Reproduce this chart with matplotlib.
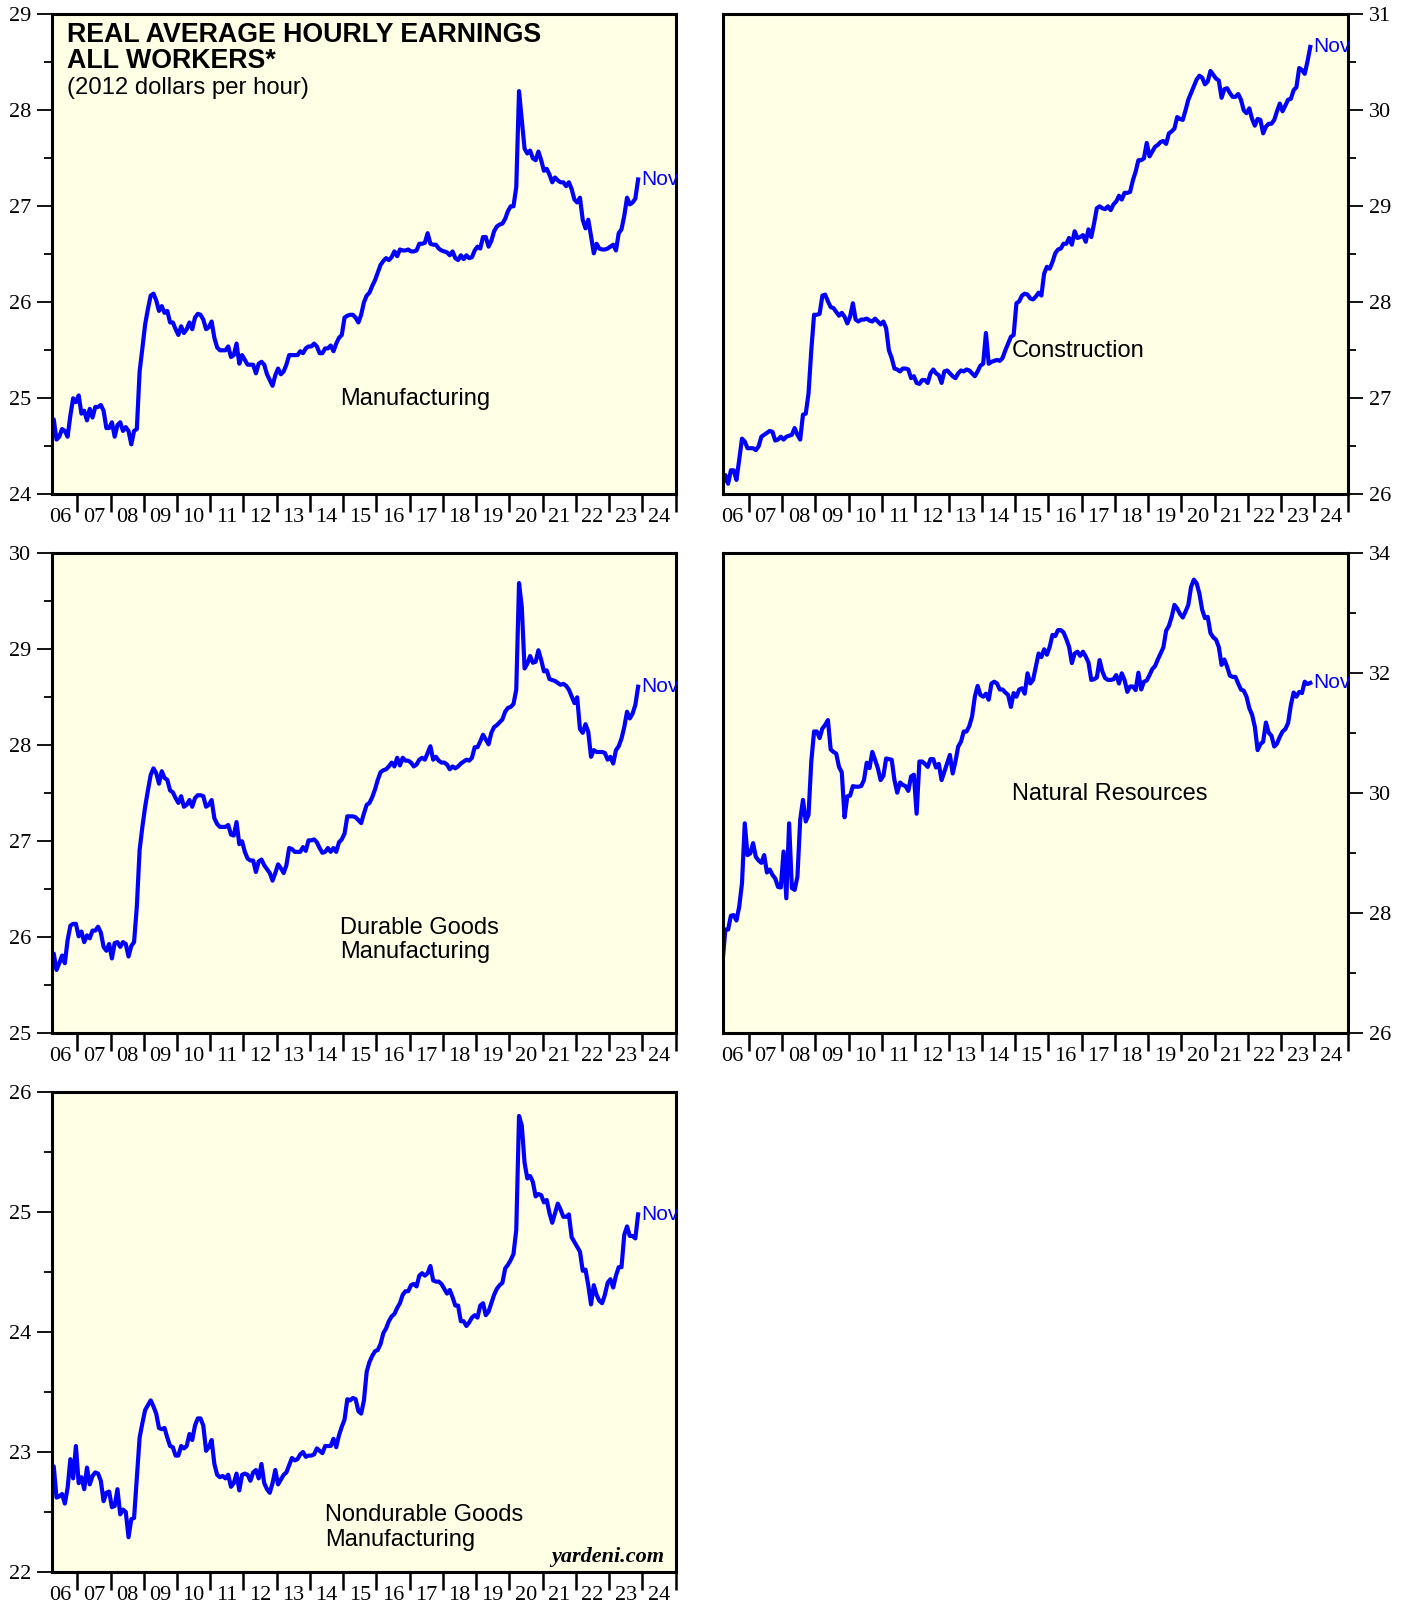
import numpy as np
import matplotlib.pyplot as plt
from matplotlib.ticker import FixedLocator, MultipleLocator, NullFormatter, FixedFormatter

plt.rcParams['font.family'] = ['Liberation Sans', 'DejaVu Sans']

# real average hourly earnings, 2012 dollars, monthly Mar 2006 - Nov 2023
manufacturing = [
    24.75, 24.78, 24.57, 24.60, 24.68, 24.66, 24.60, 24.82, 25.00, 24.96,
    25.03, 24.84, 24.87, 24.77, 24.89, 24.80, 24.91, 24.91, 24.93, 24.87, 24.69, 24.69,
    24.75, 24.60, 24.72, 24.75, 24.66, 24.70, 24.66, 24.52, 24.66, 24.68, 25.28, 25.52,
    25.77, 25.93, 26.07, 26.09, 26.02, 25.91, 25.96, 25.89, 25.91, 25.79, 25.79, 25.72,
    25.66, 25.75, 25.68, 25.72, 25.79, 25.72, 25.84, 25.88, 25.87, 25.82, 25.72, 25.74,
    25.80, 25.63, 25.53, 25.50, 25.50, 25.50, 25.54, 25.43, 25.45, 25.57, 25.36, 25.45,
    25.40, 25.35, 25.35, 25.35, 25.26, 25.36, 25.38, 25.35, 25.25, 25.19, 25.13, 25.24,
    25.31, 25.25, 25.28, 25.35, 25.45, 25.45, 25.45, 25.45, 25.49, 25.47, 25.52, 25.54,
    25.54, 25.57, 25.54, 25.47, 25.47, 25.52, 25.52, 25.55, 25.49, 25.57, 25.63, 25.66,
    25.84, 25.86, 25.87, 25.87, 25.84, 25.79, 25.87, 26.00, 26.07, 26.10, 26.17, 26.23,
    26.31, 26.39, 26.43, 26.46, 26.44, 26.47, 26.53, 26.48, 26.55, 26.54, 26.54, 26.55,
    26.53, 26.53, 26.54, 26.61, 26.61, 26.62, 26.72, 26.61, 26.60, 26.60, 26.56, 26.54,
    26.53, 26.52, 26.49, 26.53, 26.46, 26.44, 26.49, 26.45, 26.49, 26.46, 26.47, 26.54,
    26.58, 26.56, 26.68, 26.68, 26.58, 26.64, 26.74, 26.79, 26.81, 26.82, 26.87, 26.95,
    27.00, 27.00, 27.20, 28.20, 27.90, 27.60, 27.55, 27.58, 27.50, 27.48, 27.57, 27.48,
    27.37, 27.39, 27.33, 27.25, 27.30, 27.27, 27.25, 27.25, 27.21, 27.25, 27.18, 27.07,
    27.04, 27.09, 26.86, 26.77, 26.86, 26.69, 26.51, 26.61, 26.56, 26.55, 26.55, 26.56,
    26.58, 26.60, 26.54, 26.72, 26.76, 26.90, 27.09, 27.02, 27.04, 27.08, 27.28,
]

construction = [
    26.10, 26.20, 26.11, 26.25, 26.25, 26.15, 26.36, 26.58, 26.55, 26.48,
    26.48, 26.48, 26.46, 26.50, 26.60, 26.62, 26.64, 26.66, 26.65, 26.56, 26.57, 26.60,
    26.57, 26.60, 26.61, 26.62, 26.69, 26.62, 26.57, 26.83, 26.84, 27.05, 27.50, 27.87,
    27.87, 27.88, 28.07, 28.08, 28.01, 27.95, 27.94, 27.90, 27.86, 27.89, 27.85, 27.78,
    27.85, 27.99, 27.82, 27.80, 27.82, 27.82, 27.83, 27.81, 27.80, 27.83, 27.80, 27.77,
    27.80, 27.73, 27.50, 27.42, 27.31, 27.30, 27.28, 27.31, 27.31, 27.30, 27.21, 27.23,
    27.16, 27.15, 27.19, 27.19, 27.16, 27.26, 27.30, 27.26, 27.24, 27.16, 27.28, 27.29,
    27.26, 27.23, 27.21, 27.26, 27.29, 27.28, 27.30, 27.29, 27.26, 27.23, 27.28, 27.34,
    27.36, 27.68, 27.36, 27.38, 27.39, 27.40, 27.39, 27.42, 27.50, 27.57, 27.64, 27.66,
    27.99, 28.01, 28.07, 28.09, 28.08, 28.04, 28.03, 28.06, 28.10, 28.07, 28.30, 28.37,
    28.35, 28.42, 28.51, 28.55, 28.56, 28.61, 28.61, 28.67, 28.60, 28.74, 28.67, 28.68,
    28.70, 28.63, 28.76, 28.68, 28.82, 28.98, 29.00, 28.98, 28.97, 29.00, 28.96, 29.02,
    29.05, 29.11, 29.07, 29.14, 29.14, 29.15, 29.27, 29.36, 29.48, 29.48, 29.50, 29.66,
    29.52, 29.57, 29.62, 29.64, 29.67, 29.68, 29.65, 29.76, 29.78, 29.81, 29.93, 29.91,
    29.90, 30.00, 30.11, 30.18, 30.25, 30.32, 30.36, 30.34, 30.27, 30.30, 30.41, 30.37,
    30.33, 30.31, 30.13, 30.22, 30.23, 30.18, 30.14, 30.14, 30.17, 30.11, 30.00, 29.97,
    30.02, 29.91, 29.84, 29.91, 29.90, 29.76, 29.83, 29.86, 29.86, 29.90, 29.99, 30.07,
    29.99, 30.05, 30.11, 30.12, 30.21, 30.24, 30.44, 30.42, 30.38, 30.51, 30.66,
]

durable = [
    25.83, 25.83, 25.66, 25.73, 25.81, 25.73, 25.97, 26.12, 26.14, 26.14,
    26.01, 26.06, 25.95, 26.02, 25.99, 26.07, 26.07, 26.11, 26.05, 25.90, 25.86, 25.93,
    25.78, 25.94, 25.95, 25.90, 25.95, 25.93, 25.80, 25.91, 25.95, 26.32, 26.91, 27.15,
    27.36, 27.53, 27.69, 27.76, 27.71, 27.60, 27.73, 27.66, 27.64, 27.53, 27.51, 27.45,
    27.40, 27.47, 27.36, 27.38, 27.43, 27.36, 27.45, 27.48, 27.48, 27.47, 27.36, 27.38,
    27.43, 27.24, 27.18, 27.15, 27.15, 27.15, 27.17, 27.07, 27.06, 27.20, 26.97, 27.00,
    26.89, 26.82, 26.80, 26.80, 26.68, 26.79, 26.81, 26.75, 26.71, 26.67, 26.59, 26.67,
    26.76, 26.72, 26.67, 26.75, 26.93, 26.92, 26.89, 26.89, 26.89, 26.94, 26.90, 27.01,
    27.01, 27.02, 26.99, 26.93, 26.88, 26.89, 26.93, 26.89, 26.93, 26.89, 26.99, 27.02,
    27.08, 27.26, 27.26, 27.26, 27.25, 27.22, 27.19, 27.29, 27.38, 27.40, 27.46, 27.54,
    27.64, 27.72, 27.74, 27.75, 27.78, 27.82, 27.78, 27.87, 27.79, 27.87, 27.84, 27.84,
    27.82, 27.78, 27.80, 27.85, 27.87, 27.85, 27.92, 27.99, 27.85, 27.88, 27.84, 27.82,
    27.82, 27.80, 27.75, 27.78, 27.76, 27.78, 27.81, 27.83, 27.85, 27.84, 27.87, 27.98,
    27.98, 28.04, 28.11, 28.06, 28.01, 28.13, 28.19, 28.21, 28.24, 28.27, 28.35, 28.39,
    28.40, 28.43, 28.58, 29.69, 29.44, 28.80, 28.85, 28.93, 28.86, 28.87, 28.99, 28.89,
    28.77, 28.78, 28.69, 28.68, 28.67, 28.65, 28.63, 28.64, 28.62, 28.58, 28.51, 28.44,
    28.50, 28.17, 28.13, 28.22, 28.14, 27.88, 27.95, 27.93, 27.93, 27.93, 27.92, 27.85,
    27.88, 27.81, 27.95, 27.99, 28.07, 28.19, 28.35, 28.28, 28.33, 28.42, 28.61,
]

natural_resources = [
    27.19, 27.73, 27.73, 27.96, 27.97, 27.88, 28.11, 28.50, 29.50, 28.97,
    29.00, 29.17, 28.94, 28.88, 28.84, 28.97, 28.68, 28.73, 28.64, 28.58, 28.44, 28.43,
    29.03, 28.25, 29.50, 28.42, 28.39, 28.61, 29.56, 29.89, 29.53, 29.64, 30.53, 31.03,
    31.03, 30.92, 31.08, 31.14, 31.22, 30.73, 30.69, 30.66, 30.44, 30.35, 29.60, 29.95,
    29.96, 30.12, 30.11, 30.11, 30.12, 30.22, 30.51, 30.42, 30.69, 30.56, 30.42, 30.22,
    30.29, 30.58, 30.57, 30.56, 30.22, 30.01, 30.18, 30.14, 30.12, 30.04, 30.28, 30.31,
    29.66, 30.53, 30.53, 30.49, 30.44, 30.57, 30.57, 30.43, 30.49, 30.22, 30.36, 30.50,
    30.64, 30.33, 30.53, 30.78, 30.86, 31.03, 31.03, 31.12, 31.28, 31.61, 31.79, 31.64,
    31.61, 31.66, 31.56, 31.83, 31.86, 31.83, 31.73, 31.73, 31.68, 31.64, 31.44, 31.67,
    31.61, 31.73, 31.75, 31.66, 32.00, 31.83, 31.89, 32.11, 32.33, 32.27, 32.40, 32.31,
    32.44, 32.64, 32.62, 32.72, 32.72, 32.68, 32.57, 32.44, 32.17, 32.33, 32.36, 32.29,
    32.36, 32.28, 32.18, 31.89, 31.90, 31.93, 32.22, 32.03, 31.92, 31.89, 31.89, 31.90,
    31.97, 31.83, 32.00, 31.89, 31.69, 31.78, 31.78, 31.72, 32.01, 31.73, 31.86, 31.88,
    31.97, 32.07, 32.12, 32.23, 32.33, 32.43, 32.71, 32.79, 32.94, 33.14, 33.08, 32.99,
    32.93, 33.03, 33.14, 33.44, 33.56, 33.50, 33.33, 33.06, 32.92, 32.94, 32.67, 32.60,
    32.56, 32.44, 32.14, 32.23, 32.11, 31.96, 31.94, 31.94, 31.83, 31.73, 31.71, 31.61,
    31.42, 31.31, 31.11, 30.72, 30.82, 30.86, 31.18, 31.01, 30.96, 30.78, 30.83, 30.94,
    31.03, 31.07, 31.17, 31.47, 31.68, 31.61, 31.69, 31.67, 31.86, 31.82, 31.84,
]

nondurable = [
    22.73, 22.88, 22.62, 22.63, 22.65, 22.57, 22.70, 22.94, 22.78, 23.05,
    22.74, 22.79, 22.69, 22.87, 22.73, 22.80, 22.83, 22.82, 22.76, 22.59, 22.66, 22.67,
    22.54, 22.55, 22.69, 22.48, 22.52, 22.50, 22.29, 22.44, 22.45, 22.78, 23.12, 23.24,
    23.35, 23.39, 23.43, 23.38, 23.32, 23.20, 23.19, 23.20, 23.12, 23.05, 23.04, 22.97,
    22.97, 23.05, 23.03, 23.05, 23.15, 23.10, 23.22, 23.28, 23.28, 23.22, 23.01, 23.04,
    23.10, 22.90, 22.81, 22.79, 22.80, 22.78, 22.81, 22.71, 22.74, 22.82, 22.68, 22.81,
    22.82, 22.81, 22.76, 22.83, 22.85, 22.78, 22.90, 22.74, 22.69, 22.66, 22.74, 22.85,
    22.73, 22.77, 22.81, 22.83, 22.89, 22.95, 22.93, 22.94, 22.98, 23.00, 22.96, 22.97,
    22.97, 22.98, 23.03, 23.01, 22.99, 23.05, 23.05, 23.05, 23.11, 23.04, 23.14, 23.21,
    23.27, 23.44, 23.43, 23.45, 23.44, 23.34, 23.32, 23.43, 23.67, 23.75, 23.80, 23.84,
    23.85, 23.90, 23.99, 24.03, 24.09, 24.13, 24.15, 24.20, 24.24, 24.31, 24.34, 24.34,
    24.39, 24.40, 24.38, 24.47, 24.49, 24.47, 24.49, 24.55, 24.43, 24.42, 24.42, 24.40,
    24.36, 24.32, 24.35, 24.29, 24.22, 24.22, 24.09, 24.09, 24.05, 24.08, 24.12, 24.14,
    24.12, 24.22, 24.24, 24.14, 24.17, 24.24, 24.31, 24.36, 24.39, 24.41, 24.53, 24.56,
    24.60, 24.65, 24.85, 25.80, 25.72, 25.41, 25.28, 25.30, 25.25, 25.13, 25.15, 25.14,
    25.08, 25.10, 24.99, 24.91, 24.99, 25.07, 25.02, 24.96, 24.96, 24.98, 24.79, 24.75,
    24.71, 24.67, 24.51, 24.52, 24.39, 24.23, 24.39, 24.31, 24.26, 24.24, 24.31, 24.41,
    24.44, 24.37, 24.47, 24.54, 24.54, 24.81, 24.88, 24.80, 24.80, 24.78, 24.98,
]

year_labels = ['%02d' % (y % 100) for y in range(2006, 2025)]

# month midpoints, first value is March 2006
t = 2006 + (np.arange(len(manufacturing)) + 2.5) / 12.0

W, H = 1408.0, 1602.0
def box(left, top, right, bottom):
    return [left / W, 1 - bottom / H, (right - left) / W, (bottom - top) / H]

BG = '#ffffe6'
BLUE = '#0000ff'
SERIF = 'Liberation Serif'

fig = plt.figure(figsize=(14.08, 16.02), dpi=100)

panels = [
    # position, data, y range, major step, minor step, side
    (box(51.7, 14.3, 675.5, 494.3),   manufacturing,     (24, 29), 1, 0.5, 'left'),
    (box(723.3, 14.3, 1347.7, 494.3), construction,      (26, 31), 1, 0.5, 'right'),
    (box(51.7, 553.3, 675.5, 1033.3), durable,           (25, 30), 1, 0.5, 'left'),
    (box(723.3, 553.3, 1347.7, 1033.3), natural_resources, (26, 34), 2, 1, 'right'),
    (box(51.7, 1092.0, 675.5, 1572.0), nondurable,       (22, 26), 1, 0.5, 'left'),
]

for pos, vals, (lo, hi), major, minor, side in panels:
    ax = fig.add_axes(pos)
    ax.set_facecolor(BG)
    ax.plot(t, vals, color=BLUE, lw=3.0, solid_joinstyle='round')
    ax.set_xlim(2006.23, 2025.0)
    ax.set_ylim(lo, hi)
    for s in ax.spines.values():
        s.set_linewidth(2.2)

    # years: ticks on the boundaries, labels in between
    ax.xaxis.set_major_locator(FixedLocator(np.arange(2007, 2026)))
    ax.xaxis.set_major_formatter(NullFormatter())
    ax.xaxis.set_minor_locator(FixedLocator(np.arange(2006, 2025) + 0.5))
    ax.xaxis.set_minor_formatter(FixedFormatter(year_labels))
    ax.tick_params(axis='x', which='major', direction='out', length=13, width=1.8)
    ax.tick_params(axis='x', which='minor', length=0, pad=10, labelsize=16)

    ax.yaxis.set_major_locator(MultipleLocator(major))
    ax.yaxis.set_minor_locator(MultipleLocator(minor))
    ax.tick_params(axis='y', which='major', direction='out', length=11, width=1.3,
                   pad=4, labelsize=16)
    ax.tick_params(axis='y', which='minor', direction='out', length=5.5, width=1.3)
    if side == 'right':
        ax.yaxis.tick_right()
    for lab in ax.get_xticklabels(minor=True) + ax.get_yticklabels():
        lab.set_family(SERIF)

    ax.annotate('Nov', xy=(t[-1], vals[-1]), xytext=(2, 0), textcoords='offset points',
                color=BLUE, fontsize=15, va='center', ha='left', annotation_clip=False)

def label(x, y, s, **kw):
    fig.text(x / W, 1 - y / H, s, va='center', ha='left', **kw)

label(67, 35, 'REAL AVERAGE HOURLY EARNINGS', fontsize=19.3, fontweight='bold')
label(67, 61, 'ALL WORKERS*', fontsize=19.3, fontweight='bold')
label(67, 88, '(2012 dollars per hour)', fontsize=17.2)

label(340, 399, 'Manufacturing', fontsize=17)
label(1012, 351, 'Construction', fontsize=17)
label(340, 928, 'Durable Goods', fontsize=17)
label(340, 952, 'Manufacturing', fontsize=17)
label(1012, 794, 'Natural Resources', fontsize=17)
label(325, 1515, 'Nondurable Goods', fontsize=17)
label(325, 1540, 'Manufacturing', fontsize=17)

fig.text(664 / W, 1 - 1557 / H, 'yardeni.com', ha='right', va='center', fontsize=16,
         family=SERIF, fontweight='bold', style='italic')

fig.savefig('out.png', dpi=100, facecolor='white')
